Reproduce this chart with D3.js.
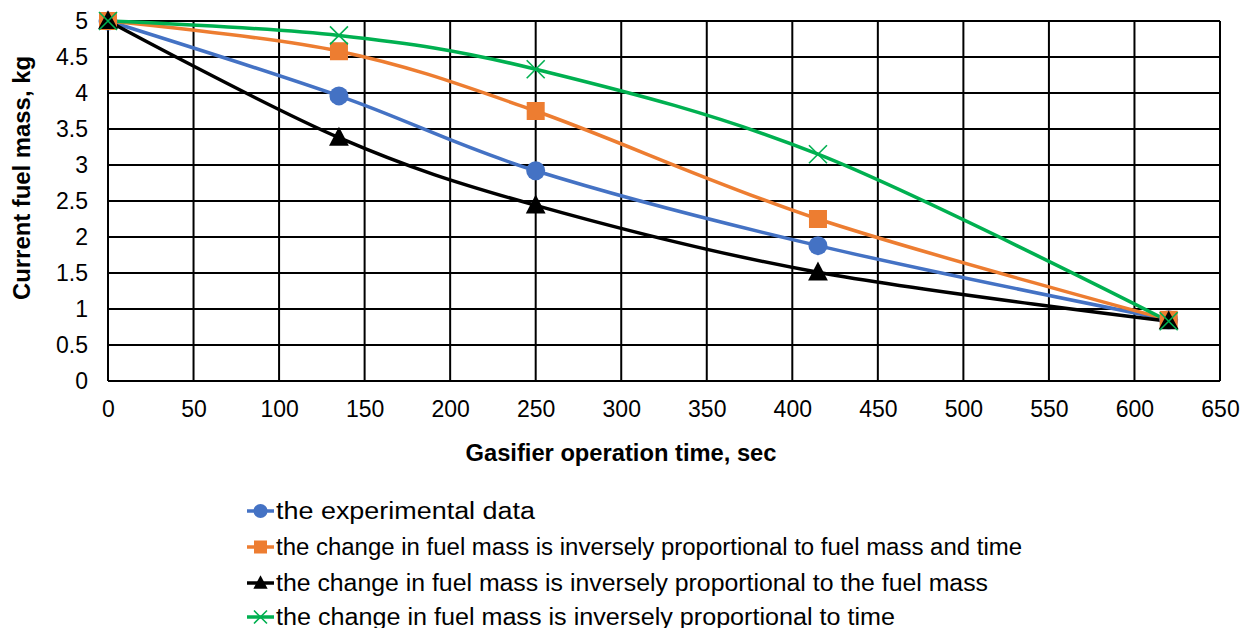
<!DOCTYPE html>
<html>
<head>
<meta charset="utf-8">
<script src="https://cdn.jsdelivr.net/npm/d3@7/dist/d3.min.js"></script>
<style>
  body { margin: 0; background: #fff; }
  text { font-family: "Liberation Sans", Arial, sans-serif; }
</style>
</head>
<body>
<script>
var times = [0, 135, 250, 415, 620];
var experimental = [5, 3.96, 2.92, 1.88, 0.85];
var massAndTime = [5, 4.58, 3.75, 2.25, 0.85];
var massOnly = [5, 3.38, 2.44, 1.51, 0.83];
var timeOnly = [5, 4.8, 4.33, 3.15, 0.83];

var xTicks = d3.range(0, 651, 50);
var yTicks = d3.range(0, 5.01, 0.5);

var seriesNames = [
  "the experimental data",
  "the change in fuel mass is inversely proportional to fuel mass and time",
  "the change in fuel mass is inversely proportional to the fuel mass",
  "the change in fuel mass is inversely proportional to time"
];
var legendWidths = [259, 746, 712, 619];

var series = [
  {name: seriesNames[0], values: experimental, color: "#4472C4", marker: "circle"},
  {name: seriesNames[1], values: massAndTime, color: "#ED7D31", marker: "square"},
  {name: seriesNames[2], values: massOnly, color: "#000000", marker: "triangle"},
  {name: seriesNames[3], values: timeOnly, color: "#00B050", marker: "cross"}
];

var W = 1242, H = 628;
var svg = d3.select("body")
  .append("svg")
  .attr("width", W)
  .attr("height", H)

var x = d3.scaleLinear().domain([0, 650]).range([108, 1220]);
var y = d3.scaleLinear().domain([0, 5]).range([381, 21]);

// grid
var grid = svg.append("g").attr("class", "grid");
grid.selectAll("line.v")
  .data(xTicks)
  .enter().append("line")
  .attr("x1", function(d){ return x(d) }).attr("x2", function(d){ return x(d) })
  .attr("y1", y(0)).attr("y2", y(5))
  .attr("stroke", "#000").attr("stroke-width", 2);
grid.selectAll("line.h")
  .data(yTicks)
  .enter().append("line")
  .attr("y1", function(d){ return y(d) }).attr("y2", function(d){ return y(d) })
  .attr("x1", x(0)).attr("x2", x(650))
  .attr("stroke", "#000").attr("stroke-width", 2);

// axes (labels only)
var xAxis = svg.append("g")
  .attr("transform", "translate(0," + y(0) + ")")
  .call(d3.axisBottom(x).tickValues(xTicks).tickSize(0).tickPadding(20));
var yAxis = svg.append("g")
  .attr("transform", "translate(" + x(0) + ",0)")
  .call(d3.axisLeft(y).tickValues(yTicks).tickSize(0).tickPadding(20)
    .tickFormat(function(d){ return d3.format("")(d) }));
[xAxis, yAxis].forEach(function(a){
  a.select(".domain").remove();
  a.selectAll("text")
    .style("font-family", "'Liberation Sans', Arial, sans-serif")
    .style("font-size", "23px")
    .attr("fill", "#000");
});

// axis titles
svg.append("text")
  .attr("x", 621).attr("y", 461)
  .attr("text-anchor", "middle")
  .style("font-size", "23px").style("font-weight", "bold")
  .attr("textLength", 311).attr("lengthAdjust", "spacingAndGlyphs")
  .text("Gasifier operation time, sec");
svg.append("text")
  .attr("transform", "translate(30,178) rotate(-90)")
  .attr("text-anchor", "middle")
  .style("font-size", "23px").style("font-weight", "bold")
  .attr("textLength", 244).attr("lengthAdjust", "spacingAndGlyphs")
  .text("Current fuel mass, kg");

var line = d3.line()
  .x(function(d, i){ return x(times[i]) })
  .y(function(d){ return y(d) })
  .curve(d3.curveCatmullRom.alpha(0));

function drawMarker(g, type, color, size) {
  if (type == "circle") {
    g.append("circle").attr("r", size / 2).attr("fill", color);
  } else if (type == "square") {
    g.append("rect").attr("x", -size / 2).attr("y", -size / 2)
      .attr("width", size).attr("height", size).attr("fill", color);
  } else if (type == "triangle") {
    var h = size;
    g.append("path")
      .attr("d", "M0," + (-h * 0.6) + "L" + (h * 0.55) + "," + (h * 0.45) + "L" + (-h * 0.55) + "," + (h * 0.45) + "Z")
      .attr("fill", color);
  } else if (type == "cross") {
    var s = size / 2;
    g.append("path")
      .attr("d", "M" + (-s) + "," + (-s) + "L" + s + "," + s + "M" + (-s) + "," + s + "L" + s + "," + (-s))
      .attr("stroke", color).attr("stroke-width", 1.6).attr("fill", "none");
  }
}

var plot = svg.append("g").attr("class", "series");
series.forEach(function(s){
  plot.append("path")
    .attr("d", line(s.values))
    .attr("fill", "none")
    .attr("stroke", s.color)
    .attr("stroke-width", 3.5);
});
series.forEach(function(s){
  s.values.forEach(function(v, i){
    var g = plot.append("g").attr("transform", "translate(" + x(times[i]) + "," + y(v) + ")");
    drawMarker(g, s.marker, s.color, s.marker == "circle" ? 19 : 18);
  });
});

// legend
var legend = svg.append("g").attr("class", "legend");
var rowY = [511, 547, 583, 617];
series.forEach(function(s, i){
  var g = legend.append("g").attr("transform", "translate(0," + rowY[i] + ")");
  g.append("line").attr("x1", 247).attr("x2", 274).attr("y1", 0).attr("y2", 0)
    .attr("stroke", s.color).attr("stroke-width", 3.5);
  var m = g.append("g").attr("transform", "translate(260.5,0)");
  drawMarker(m, s.marker, s.color, s.marker == "circle" ? 14 : 13);
  g.append("text")
    .attr("x", 276).attr("y", 8)
    .style("font-size", "23px")
    .attr("textLength", legendWidths[i])
    .attr("lengthAdjust", "spacingAndGlyphs")
    .text(s.name);
});
</script>
</body>
</html>
